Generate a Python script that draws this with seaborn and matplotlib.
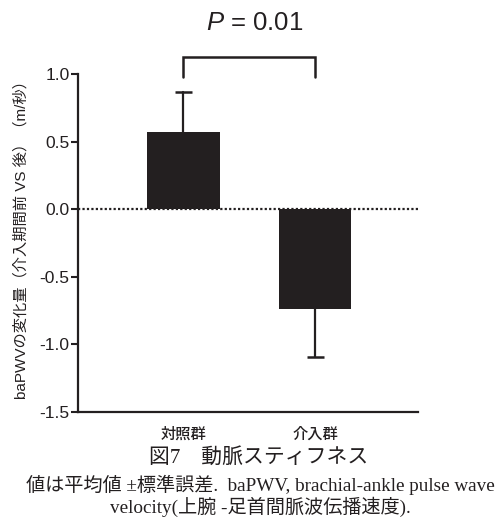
import matplotlib
matplotlib.use("Agg")
import matplotlib.pyplot as plt
import seaborn as sns
import pandas as pd

groups = ["対照群", "介入群"]
mean_change = [0.57, -0.74]
sem = [0.295, 0.355]
p_text = "0.01"
yticks = [1.0, 0.5, 0.0, -0.5, -1.0, -1.5]

ink = "#231f20"

sns.set_theme(style="white")
plt.rcParams["font.family"] = ["Liberation Sans", "Noto Sans CJK JP", "DejaVu Sans"]
plt.rcParams["mathtext.fontset"] = "custom"
plt.rcParams["mathtext.rm"] = "Liberation Sans"
plt.rcParams["mathtext.it"] = "Liberation Sans:italic"

df = pd.DataFrame({"group": groups, "change": mean_change, "sem": sem})

fig = plt.figure(figsize=(5.0, 5.19), dpi=100)
ax = fig.add_axes([0.156, 0.2062, 0.68, 0.6512])

sns.barplot(data=df, x="group", y="change", color=ink, width=0.55,
            saturation=1, errorbar=None, ax=ax, zorder=3)
for patch in ax.patches:
    patch.set_edgecolor("none")

# one-sided SEM whiskers pointing away from zero
for i, (m, e) in enumerate(zip(mean_change, sem)):
    tip = m + e if m > 0 else m - e
    ax.plot([i, i], [m, tip], color=ink, lw=1.6, clip_on=False, zorder=2)
    ax.plot([i - 0.065, i + 0.065], [tip, tip], color=ink, lw=1.8,
            clip_on=False, zorder=2, solid_capstyle="butt")

ax.axhline(0, color=ink, lw=1.6, ls=(0, (1, 1.0)), zorder=4)

ax.set_xlim(-0.80, 1.78)
ax.set_ylim(-1.5, 1.0)
ax.set_yticks(yticks)
ax.set_yticklabels([f"{t:.1f}" for t in yticks])

for side in ["top", "right"]:
    ax.spines[side].set_visible(False)
for side in ["left", "bottom"]:
    ax.spines[side].set_color(ink)
    ax.spines[side].set_linewidth(1.6)

ax.tick_params(axis="y", left=True, length=5, width=1.5, color=ink,
               labelsize=12.5, labelcolor=ink, pad=1)
ax.tick_params(axis="x", bottom=False, labelsize=11, labelcolor=ink, pad=5)
for lab in ax.get_xticklabels():
    lab.set_fontweight("medium")

ax.set_xlabel("")
ax.set_ylabel("baPWVの変化量（介入期間前 VS 後）（m/秒）", fontsize=11,
              color=ink)
ax.yaxis.set_label_coords(-0.145, 0.52)

# significance bracket
ax.plot([0, 0, 1, 1], [0.976, 1.124, 1.124, 0.976], color=ink, lw=1.8,
        clip_on=False, solid_joinstyle="miter")
fig.text(0.51, 1 - 23 / 519, rf"$P$ = {p_text}", ha="center", va="center",
         fontsize=18.5, color=ink)

serif = ["Liberation Serif", "Noto Sans CJK JP"]
fig.text(0.518, 1 - 458 / 519, "図7　動脈スティフネス", ha="center", va="center",
         fontsize=15, color=ink, family=serif)
fig.text(0.521, 1 - 485 / 519,
         "値は平均値 ±標準誤差.  baPWV, brachial-ankle pulse wave",
         ha="center", va="center", fontsize=13.8, color=ink, family=serif)
fig.text(0.52, 1 - 507 / 519, "velocity(上腕 -足首間脈波伝播速度).",
         ha="center", va="center", fontsize=13.8, color=ink, family=serif)

fig.savefig("out.png", dpi=100)
